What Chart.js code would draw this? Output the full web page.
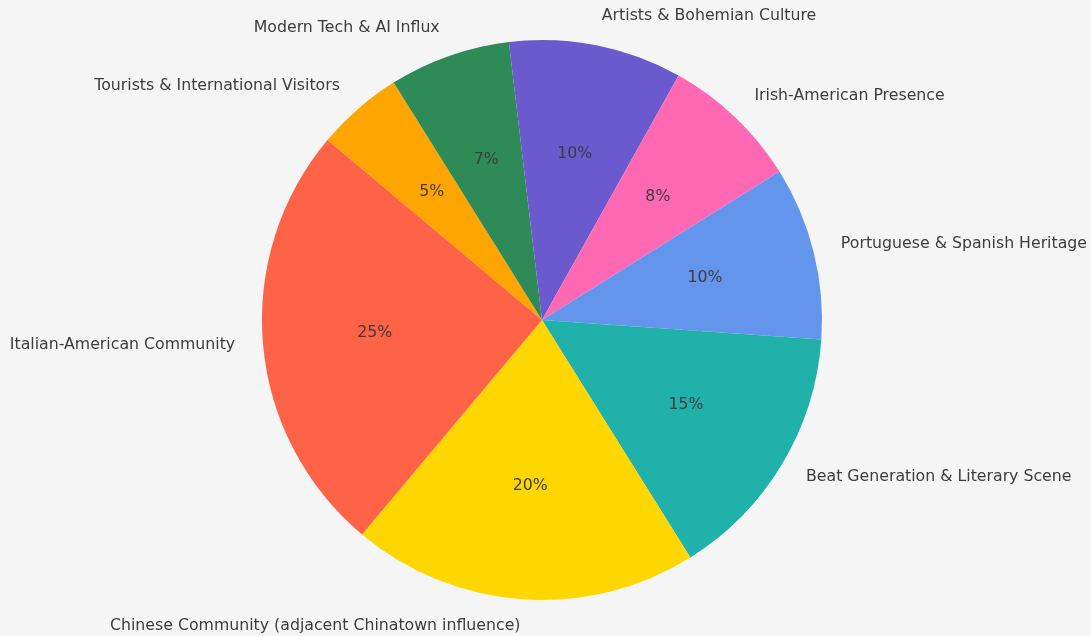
<!DOCTYPE html>
<html>
<head>
<meta charset="utf-8">
<script src="https://cdn.jsdelivr.net/npm/chart.js@4"></script>
<style>
html,body{margin:0;padding:0;background:#f5f5f5;}
#wrap{width:1091px;height:636px;position:relative;}
</style>
</head>
<body>
<div id="wrap"><canvas id="c" width="1091" height="636"></canvas></div>
<script>
// Clockwise order starting from upper-left
const categories = [
  "Tourists & International Visitors",
  "Modern Tech & AI Influx",
  "Artists & Bohemian Culture",
  "Irish-American Presence",
  "Portuguese & Spanish Heritage",
  "Beat Generation & Literary Scene",
  "Chinese Community (adjacent Chinatown influence)",
  "Italian-American Community"
];
const shares = [5, 7, 10, 8, 10, 15, 20, 25];
const colors = ["#FFA500", "#2E8B57", "#6A5ACD", "#FF69B4", "#6495ED", "#20B2AA", "#FFD700", "#FF6347"];

const labelPlugin = {
  id: 'mplLabels',
  afterDatasetsDraw(chart) {
    const ctx = chart.ctx;
    const meta = chart.getDatasetMeta(0);
    const total = shares.reduce((a, b) => a + b, 0);
    ctx.save();
    ctx.font = '15.75px "DejaVu Sans"';
    ctx.fillStyle = '#3c3c3c';
    ctx.textBaseline = 'middle';
    meta.data.forEach((arc, i) => {
      const p = arc.getProps(['x', 'y', 'startAngle', 'endAngle', 'outerRadius'], true);
      const mid = (p.startAngle + p.endAngle) / 2;
      const c = Math.cos(mid), s = Math.sin(mid);
      // outside label
      ctx.textAlign = c > 0 ? 'left' : 'right';
      ctx.fillText(categories[i], p.x + 1.1 * p.outerRadius * c, p.y + 1.1 * p.outerRadius * s - 1.5);
      // percentage
      ctx.textAlign = 'center';
      const pct = Math.round(shares[i] / total * 100) + '%';
      ctx.fillText(pct, p.x + 0.6 * p.outerRadius * c, p.y + 0.6 * p.outerRadius * s - 1.5);
    });
    ctx.restore();
  }
};

new Chart(document.getElementById('c'), {
  type: 'pie',
  data: {
    labels: categories,
    datasets: [{
      data: shares,
      backgroundColor: colors,
      borderWidth: 0
    }]
  },
  options: {
    responsive: false,
    animation: false,
    rotation: -50,
    layout: { padding: { left: 262, right: 269, top: 40, bottom: 36 } },
    plugins: { legend: { display: false }, tooltip: { enabled: false } }
  },
  plugins: [labelPlugin]
});
</script>
</body>
</html>
